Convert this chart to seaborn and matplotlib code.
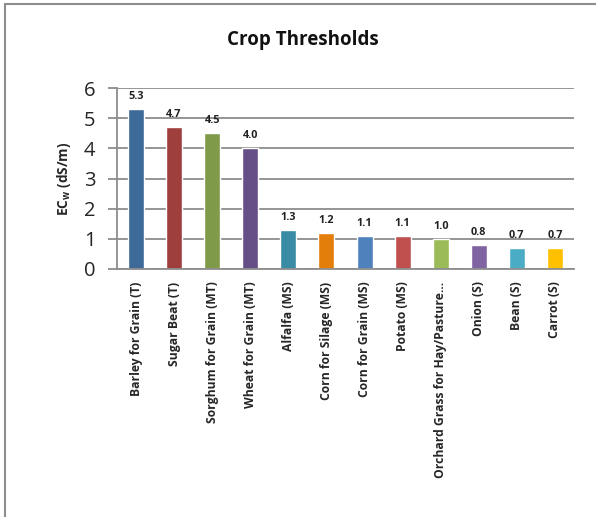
import matplotlib
matplotlib.use("Agg")
import matplotlib.pyplot as plt
import seaborn as sns
import pandas as pd
from matplotlib.patches import Rectangle

categories = [
    "Barley for Grain (T)", "Sugar Beat (T)", "Sorghum for Grain (MT)",
    "Wheat for Grain (MT)", "Alfalfa (MS)", "Corn for Silage (MS)",
    "Corn for Grain (MS)", "Potato (MS)", "Orchard Grass for Hay/Pasture\u2026",
    "Onion (S)", "Bean (S)", "Carrot (S)",
]
values = [5.3, 4.7, 4.5, 4.0, 1.3, 1.2, 1.1, 1.1, 1.0, 0.8, 0.7, 0.7]
colors = ["#3E6A9A", "#9E3F3E", "#7F9A48", "#664F87", "#3A8CA4", "#E47E0A",
          "#4F81BD", "#C0504D", "#9BBB59", "#8064A2", "#4BACC6", "#FFC000"]
title = "Crop Thresholds"
yticks = [0, 1, 2, 3, 4, 5, 6]

sns.set_theme(style="white")
plt.rcParams["font.family"] = ["Open Sans", "DejaVu Sans"]
plt.rcParams["mathtext.fontset"] = "custom"
plt.rcParams["mathtext.rm"] = "Open Sans:bold"
plt.rcParams["mathtext.bf"] = "Open Sans:bold"

df = pd.DataFrame({"crop": categories, "ec": values})

W, H = 596, 517
fig = plt.figure(figsize=(W / 100, H / 100), dpi=100)
fig.patch.set_facecolor("white")
ax = fig.add_axes([117 / W, (H - 269) / H, (574 - 117) / W, (269 - 88) / H])

sns.barplot(data=df, x="crop", y="ec", hue="crop", palette=colors,
            legend=False, width=0.42, saturation=1, ax=ax)

ax.set_ylim(0, 6)
ax.set_yticks(yticks)
ax.set_xlim(-0.5, len(categories) - 0.5)
grid_c = "#8c8c8c"
ax.grid(axis="y", color=grid_c, linewidth=1.3)
ax.set_axisbelow(True)
for s in ["top", "right"]:
    ax.spines[s].set_visible(False)
ax.spines["left"].set_color(grid_c)
ax.spines["left"].set_linewidth(1.3)
ax.spines["bottom"].set_color(grid_c)
ax.spines["bottom"].set_linewidth(1.3)

ax.tick_params(axis="y", direction="out", length=6.5, width=1.3, color=grid_c,
               labelsize=14.5, pad=9, left=True)
ax.tick_params(axis="x", length=0, pad=9)
ax.set_xticks(range(len(categories)))
ax.set_xticklabels(categories, rotation=90, fontsize=8.7, fontweight="bold",
                   ha="center", va="top")
ax.set_xlabel("")
ax.set_ylabel(r"EC$_{\mathrm{w}}$ (dS/m)", fontsize=9.8, fontweight="bold", labelpad=8)

for p in ax.patches:
    h = p.get_height()
    if h != h or h == 0:
        continue
    ax.annotate(f"{h:.1f}", (p.get_x() + p.get_width() / 2, h),
                xytext=(0, 5), textcoords="offset points",
                ha="center", va="bottom", fontsize=7.8, fontweight="bold",
                color="#222222")

fig.text(303 / W, 1 - 40 / H, title, ha="center", va="center",
         fontsize=13.5, fontweight="bold", color="#111111")

fig.patches.append(Rectangle((5 / W, -0.1), 1.2, (H - 4) / H + 0.1,
                             transform=fig.transFigure, fill=False,
                             edgecolor="#8c8c8c", linewidth=1.5, clip_on=False))

fig.savefig("out.png", dpi=100)
